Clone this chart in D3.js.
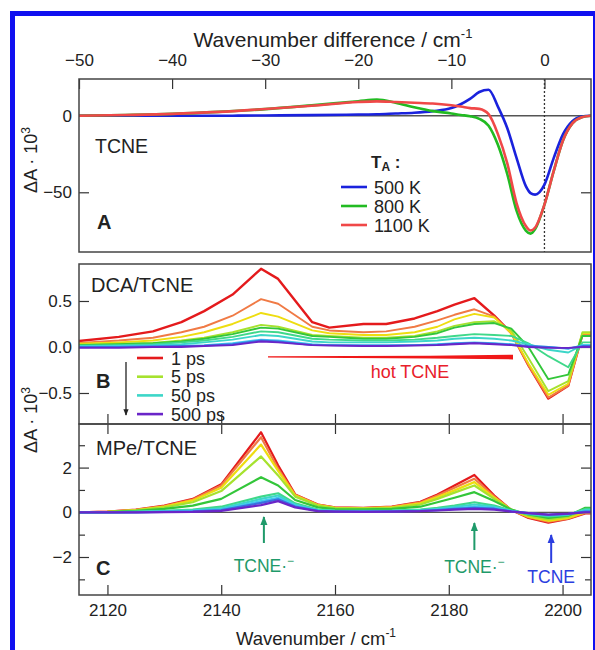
<!DOCTYPE html>
<html>
<head>
<meta charset="utf-8">
<script src="https://cdn.jsdelivr.net/npm/d3@7"></script>
<style>
  body { margin: 0; background: #fff; }
  text { font-family: "Liberation Sans", Arial, sans-serif; fill: #222; }
</style>
</head>
<body>
<div id="chart"></div>
<script>
// ---------- data ----------
// panel A: wavenumber difference (cm-1)
const diffA = [-50, -45, -40, -35, -30, -25, -20, -18, -16, -14, -12, -10, -9, -8, -7, -6, -5, -4, -3, -2, -1.5, -1, 0, 1, 2, 3, 4, 5];
const temps = ["500 K", "800 K", "1100 K"];
const tempColors = ["#1a22dd", "#22bb22", "#f04848"];
const tcne500 = [0, 0, 0, 0, 0.2, 0.4, 0.8, 1, 1.5, 2, 3, 5, 7.5, 11, 15.5, 17, 6, -8, -27.5, -46, -50.5, -51.5, -45, -27.5, -12, -3.5, -0.5, 0];
const tcne800 = [0, 0.5, 1.2, 2.5, 4.3, 6.8, 9.5, 10.5, 8.5, 5.5, 3, 1.5, 0.5, -0.3, -2, -6.5, -19, -38, -62, -75, -77, -74, -58, -36, -16, -5, -1, 0];
const tcne1100 = [0, 0.5, 1.2, 2.5, 4.4, 6.5, 9, 9.4, 9, 8.5, 8, 6.8, 6, 5, 4.5, 1, -12, -31, -57, -72, -75, -73, -58, -36, -16, -5, -1, 0];

// pump-probe delays
const delays = ["1 ps", "2 ps", "3 ps", "5 ps", "10 ps", "20 ps", "50 ps", "100 ps", "200 ps", "500 ps"];
const delayColors = ["#e41a1c", "#f07a45", "#eedd10", "#a6e22e", "#33c63a", "#3fd88a", "#3cd6c8", "#3fc8f0", "#3a6ee0", "#6a25c8"];
const legendDelays = [0, 3, 6, 9];

// panel B: DCA/TCNE
const wnB = [2115, 2122, 2128, 2133, 2137, 2142, 2147, 2150, 2156, 2159, 2165, 2169, 2174, 2178, 2181, 2184.5, 2188, 2191, 2194, 2197.5, 2201, 2203.5, 2205];
const dcaB = [
  [0.065, 0.11, 0.17, 0.27, 0.39, 0.57, 0.85, 0.74, 0.27, 0.21, 0.25, 0.25, 0.31, 0.39, 0.46, 0.53, 0.34, 0.15, -0.2, -0.56, -0.42, 0.14, 0.14],
  [0.045, 0.07, 0.1, 0.16, 0.22, 0.34, 0.52, 0.47, 0.22, 0.18, 0.16, 0.17, 0.22, 0.29, 0.35, 0.41, 0.33, 0.15, -0.2, -0.55, -0.42, 0.13, 0.13],
  [0.035, 0.05, 0.07, 0.11, 0.16, 0.25, 0.37, 0.33, 0.18, 0.15, 0.13, 0.13, 0.16, 0.22, 0.3, 0.36, 0.32, 0.15, -0.18, -0.52, -0.4, 0.15, 0.15],
  [0.025, 0.035, 0.045, 0.07, 0.1, 0.16, 0.24, 0.22, 0.13, 0.12, 0.1, 0.1, 0.12, 0.17, 0.23, 0.27, 0.28, 0.18, -0.12, -0.48, -0.37, 0.16, 0.16],
  [0.02, 0.03, 0.04, 0.06, 0.09, 0.14, 0.21, 0.2, 0.12, 0.11, 0.09, 0.09, 0.11, 0.15, 0.21, 0.25, 0.26, 0.2, 0.0, -0.35, -0.3, 0.12, 0.12],
  [0.015, 0.02, 0.03, 0.05, 0.07, 0.11, 0.17, 0.16, 0.09, 0.08, 0.07, 0.07, 0.08, 0.1, 0.12, 0.14, 0.13, 0.12, 0.04, -0.1, -0.22, 0.05, 0.05],
  [0.01, 0.015, 0.02, 0.03, 0.05, 0.08, 0.13, 0.12, 0.06, 0.05, 0.05, 0.05, 0.06, 0.07, 0.09, 0.1, 0.09, 0.07, 0.03, -0.03, -0.06, 0.02, 0.02],
  [0.0, 0.005, 0.01, 0.015, 0.02, 0.04, 0.08, 0.07, 0.03, 0.02, 0.02, 0.02, 0.02, 0.03, 0.04, 0.05, 0.04, 0.03, 0.01, 0.0, -0.02, 0.02, 0.02],
  [0.0, 0.0, 0.005, 0.01, 0.015, 0.03, 0.07, 0.06, 0.02, 0.02, 0.015, 0.015, 0.02, 0.025, 0.035, 0.045, 0.035, 0.025, 0.01, 0.0, -0.015, 0.01, 0.01],
  [-0.01, -0.01, 0.0, 0.0, 0.01, 0.02, 0.06, 0.05, 0.02, 0.015, 0.01, 0.01, 0.015, 0.02, 0.03, 0.04, 0.03, 0.02, 0.0, -0.01, -0.01, 0.0, 0.0]
];

// panel C: MPe/TCNE
const wnC = [2115, 2120, 2125, 2130, 2135, 2140, 2147, 2150, 2153, 2157, 2160, 2165, 2170, 2175, 2178, 2181, 2184.5, 2188, 2191, 2194, 2197.5, 2201, 2204, 2205];
const mpeC = [
  [0, 0.03, 0.12, 0.3, 0.6, 1.25, 3.58, 2.1, 0.8, 0.35, 0.22, 0.2, 0.25, 0.47, 0.8, 1.2, 1.67, 0.75, 0.1, -0.25, -0.46, -0.3, -0.05, -0.05],
  [0, 0.03, 0.11, 0.28, 0.57, 1.2, 3.36, 1.95, 0.78, 0.34, 0.21, 0.19, 0.24, 0.44, 0.75, 1.1, 1.5, 0.7, 0.1, -0.22, -0.42, -0.28, -0.03, -0.03],
  [0, 0.02, 0.1, 0.26, 0.53, 1.1, 3.03, 1.85, 0.75, 0.32, 0.2, 0.18, 0.22, 0.4, 0.68, 0.98, 1.35, 0.65, 0.1, -0.2, -0.38, -0.25, 0, 0],
  [0, 0.02, 0.09, 0.22, 0.45, 0.95, 2.5, 1.65, 0.7, 0.3, 0.19, 0.17, 0.2, 0.35, 0.6, 0.88, 1.2, 0.6, 0.12, -0.15, -0.32, -0.2, 0.1, 0.1],
  [0, 0.01, 0.06, 0.15, 0.3, 0.6, 1.57, 1.2, 0.55, 0.22, 0.14, 0.13, 0.15, 0.25, 0.45, 0.65, 0.9, 0.5, 0.12, -0.1, -0.25, -0.15, 0.2, 0.2],
  [0, 0, 0.03, 0.07, 0.12, 0.25, 0.7, 0.85, 0.4, 0.12, 0.08, 0.07, 0.08, 0.12, 0.2, 0.3, 0.45, 0.3, 0.08, -0.08, -0.18, -0.12, 0.15, 0.15],
  [0, 0, 0.02, 0.05, 0.09, 0.18, 0.6, 0.75, 0.35, 0.1, 0.06, 0.05, 0.06, 0.1, 0.15, 0.24, 0.35, 0.25, 0.06, -0.06, -0.15, -0.1, 0.1, 0.1],
  [0, 0, 0.01, 0.03, 0.06, 0.12, 0.5, 0.65, 0.3, 0.08, 0.05, 0.04, 0.05, 0.07, 0.12, 0.18, 0.25, 0.2, 0.05, -0.05, -0.12, -0.08, 0.05, 0.05],
  [0, 0, 0, 0.02, 0.04, 0.1, 0.42, 0.58, 0.26, 0.06, 0.04, 0.03, 0.04, 0.06, 0.1, 0.15, 0.2, 0.16, 0.04, -0.04, -0.11, -0.07, 0.03, 0.03],
  [0, 0, 0, 0.01, 0.02, 0.06, 0.32, 0.5, 0.22, 0.05, 0.03, 0.02, 0.03, 0.05, 0.08, 0.12, 0.15, 0.12, 0.03, -0.04, -0.1, -0.06, 0, 0]
];

// band assignments in panel C
const bandPos = [2147.5, 2184.5, 2198];
const bandNames = ["TCNE·", "TCNE·", "TCNE"];
const bandColors = ["#1f9a6a", "#1f9a6a", "#2b3ee0"];

const topTicks = [-50, -40, -30, -20, -10, 0];
const bottomTicks = [2120, 2140, 2160, 2180, 2200];

// ---------- layout ----------
const W = 595, H = 650;
const left = 79, right = 591;

const svg = d3.select("#chart").append("svg")
  .attr("width", W).attr("height", H)
  .attr("viewBox", [0, 0, W, H]);

// blue frame
svg.append("rect")
  .attr("x", 12.5).attr("y", 13.5)
  .attr("width", 583).attr("height", 650)
  .attr("fill", "none").attr("stroke", "#1010f0").attr("stroke-width", 5);

const x = d3.scaleLinear().domain([2115, 2205]).range([left, right]);
const xTop = d3.scaleLinear().domain([-50, 5]).range([left, right]);

const panels = {
  A: { top: 79, bottom: 252 },
  B: { top: 264, bottom: 424 },
  C: { top: 424, bottom: 595 }
};
const yA = d3.scaleLinear().domain([-89, 24]).range([panels.A.bottom, panels.A.top]);
const yB = d3.scaleLinear().domain([-0.837, 0.902]).range([panels.B.bottom, panels.B.top]);
const yC = d3.scaleLinear().domain([-3.7, 3.95]).range([panels.C.bottom, panels.C.top]);

// clip paths
const defs = svg.append("defs");
Object.entries(panels).forEach(([k, p]) => {
  defs.append("clipPath").attr("id", "clip" + k)
    .append("rect").attr("x", left).attr("y", p.top)
    .attr("width", right - left).attr("height", p.bottom - p.top);
});

function styleAxis(g) {
  g.select(".domain").remove();
  g.selectAll(".tick line").attr("stroke", "#333").attr("stroke-width", 1.2);
  g.selectAll(".tick text").attr("font-size", 17).attr("fill", "#222")
    .attr("font-family", "Liberation Sans, Arial, sans-serif");
}

// ---------- panel A ----------
svg.append("g")
  .attr("transform", `translate(0,${panels.A.top})`)
  .call(d3.axisTop(xTop).tickValues(topTicks).tickSize(-10).tickPadding(13).tickFormat(d3.format("d")))
  .call(styleAxis);
svg.append("g")
  .attr("transform", `translate(${left},0)`)
  .call(d3.axisLeft(yA).tickValues([0, -50]).tickSize(-10).tickPadding(7))
  .call(styleAxis);
svg.append("g")
  .attr("transform", `translate(${right},0)`)
  .call(d3.axisRight(yA).tickValues([-50]).tickSize(-10).tickFormat(""))
  .call(styleAxis);

const gA = svg.append("g").attr("clip-path", "url(#clipA)");
gA.append("line")
  .attr("x1", left).attr("x2", right)
  .attr("y1", yA(0)).attr("y2", yA(0))
  .attr("stroke", "#555").attr("stroke-width", 1.5);
gA.append("line")
  .attr("x1", xTop(0)).attr("x2", xTop(0))
  .attr("y1", panels.A.top).attr("y2", panels.A.bottom)
  .attr("stroke", "#333").attr("stroke-width", 1.3).attr("stroke-dasharray", "2,2");

const lineA = d3.line().x((d, i) => xTop(diffA[i])).y(d => yA(d)).curve(d3.curveMonotoneX);
[tcne500, tcne800, tcne1100].forEach((s, i) => {
  gA.append("path").datum(s)
    .attr("d", lineA).attr("fill", "none")
    .attr("stroke", tempColors[i]).attr("stroke-width", 2.6);
});

svg.append("text").attr("x", 95).attr("y", 153).attr("font-size", 19.5).text("TCNE");
svg.append("text").attr("x", 97).attr("y", 229).attr("font-size", 20).attr("font-weight", "bold").text("A");

const legA = svg.append("g");
const ta = legA.append("text").attr("x", 371).attr("y", 168).attr("font-size", 17).attr("font-weight", "bold");
ta.append("tspan").text("T");
ta.append("tspan").attr("font-size", 12).attr("dy", 3).text("A");
ta.append("tspan").attr("dy", -3).text(" :");
temps.forEach((t, i) => {
  const yy = 187 + i * 19;
  legA.append("line").attr("x1", 341).attr("x2", 367).attr("y1", yy).attr("y2", yy)
    .attr("stroke", tempColors[i]).attr("stroke-width", 2.6);
  legA.append("text").attr("x", 374).attr("y", yy + 6.5).attr("font-size", 18).text(t);
});

// ---------- panel B ----------
svg.append("g")
  .attr("transform", `translate(${left},0)`)
  .call(d3.axisLeft(yB).tickValues([0.5, 0, -0.5]).tickSize(-10).tickPadding(7).tickFormat(d3.format(".1f")))
  .call(styleAxis);
svg.append("g")
  .attr("transform", `translate(${right},0)`)
  .call(d3.axisRight(yB).tickValues([0.5, 0, -0.5]).tickSize(-10).tickFormat(""))
  .call(styleAxis);
svg.append("g")
  .attr("transform", `translate(0,${panels.B.bottom})`)
  .call(d3.axisBottom(x).tickValues(bottomTicks).tickSize(-10).tickFormat(""))
  .call(styleAxis);

const gB = svg.append("g").attr("clip-path", "url(#clipB)");
const lineB = d3.line().x((d, i) => x(wnB[i])).y(d => yB(d));
dcaB.forEach((s, i) => {
  gB.append("path").datum(s)
    .attr("d", lineB).attr("fill", "none")
    .attr("stroke", delayColors[i]).attr("stroke-width", i === 0 ? 2.4 : 1.9)
    .attr("stroke-linejoin", "round");
});

svg.append("text").attr("x", 91).attr("y", 292).attr("font-size", 20).text("DCA/TCNE");
svg.append("text").attr("x", 96).attr("y", 388).attr("font-size", 20).attr("font-weight", "bold").text("B");

// hot TCNE bar (tapered)
svg.append("path")
  .attr("d", `M268,356.3 L430,355.8 L513,354.8 L513,359.4 L430,358.6 L268,357.6 Z`)
  .attr("fill", "#f01818");
svg.append("text").attr("x", 410).attr("y", 378).attr("text-anchor", "middle")
  .attr("font-size", 18).style("fill", "#e8202a").text("hot TCNE");

const legB = svg.append("g");
legendDelays.forEach((di, k) => {
  const yy = 358 + k * 18.7;
  legB.append("line").attr("x1", 137).attr("x2", 163).attr("y1", yy).attr("y2", yy)
    .attr("stroke", delayColors[di]).attr("stroke-width", 2.6);
  legB.append("text").attr("x", 171).attr("y", yy + 6.5).attr("font-size", 18).text(delays[di]);
});
defs.append("marker").attr("id", "headBlack")
  .attr("viewBox", "0 0 10 10").attr("refX", 9).attr("refY", 5)
  .attr("markerWidth", 5).attr("markerHeight", 5).attr("orient", "auto")
  .append("path").attr("d", "M0,1 L10,5 L0,9 Z").attr("fill", "#222");
legB.append("line").attr("x1", 126).attr("x2", 126).attr("y1", 362).attr("y2", 415)
  .attr("stroke", "#222").attr("stroke-width", 1.3).attr("marker-end", "url(#headBlack)");

// ---------- panel C ----------
svg.append("g")
  .attr("transform", `translate(${left},0)`)
  .call(d3.axisLeft(yC).tickValues([2, 0, -2]).tickSize(-10).tickPadding(7))
  .call(styleAxis);
svg.append("g")
  .attr("transform", `translate(${left},0)`)
  .call(d3.axisLeft(yC).tickValues([3, 1, -1, -3]).tickSize(-6).tickFormat(""))
  .call(styleAxis);
svg.append("g")
  .attr("transform", `translate(${right},0)`)
  .call(d3.axisRight(yC).tickValues([2, 0, -2]).tickSize(-10).tickFormat(""))
  .call(styleAxis);
svg.append("g")
  .attr("transform", `translate(${right},0)`)
  .call(d3.axisRight(yC).tickValues([3, 1, -1, -3]).tickSize(-6).tickFormat(""))
  .call(styleAxis);
svg.append("g")
  .attr("transform", `translate(0,${panels.C.top})`)
  .call(d3.axisTop(x).tickValues(bottomTicks).tickSize(-10).tickFormat(""))
  .call(styleAxis);
svg.append("g")
  .attr("transform", `translate(0,${panels.C.bottom})`)
  .call(d3.axisBottom(x).tickValues(bottomTicks).tickSize(-10).tickPadding(9).tickFormat(d3.format("d")))
  .call(styleAxis);

const gC = svg.append("g").attr("clip-path", "url(#clipC)");
gC.append("line")
  .attr("x1", left).attr("x2", right)
  .attr("y1", yC(0)).attr("y2", yC(0))
  .attr("stroke", "#555").attr("stroke-width", 1.3);
const lineC = d3.line().x((d, i) => x(wnC[i])).y(d => yC(d));
mpeC.forEach((s, i) => {
  gC.append("path").datum(s)
    .attr("d", lineC).attr("fill", "none")
    .attr("stroke", delayColors[i]).attr("stroke-width", 2.2)
    .attr("stroke-linejoin", "round");
});

svg.append("text").attr("x", 96).attr("y", 455).attr("font-size", 20).text("MPe/TCNE");
svg.append("text").attr("x", 96).attr("y", 575).attr("font-size", 20).attr("font-weight", "bold").text("C");

// band arrows + labels
const arrowY = [[543, 517, 572], [550, 523, 573], [563, 535, 583]];
bandPos.forEach((wn, i) => {
  const cx = x(wn);
  const id = "head" + i;
  defs.append("marker").attr("id", id)
    .attr("viewBox", "0 0 10 10").attr("refX", 9).attr("refY", 5)
    .attr("markerWidth", 4.5).attr("markerHeight", 4.5).attr("orient", "auto")
    .append("path").attr("d", "M0,1 L10,5 L0,9 Z").attr("fill", bandColors[i]);
  svg.append("line").attr("x1", cx).attr("x2", cx)
    .attr("y1", arrowY[i][0]).attr("y2", arrowY[i][1])
    .attr("stroke", bandColors[i]).attr("stroke-width", 2).attr("marker-end", `url(#${id})`);
  const t = svg.append("text").attr("x", cx).attr("y", arrowY[i][2])
    .attr("text-anchor", "middle").attr("font-size", 17.5)
    .style("fill", bandColors[i]);
  t.append("tspan").text(bandNames[i]);
  if (i < 2) t.append("tspan").attr("dy", -7).attr("font-size", 12).text("\u2212");
});

// panel frames
Object.values(panels).forEach(p => {
  svg.append("rect")
    .attr("x", left).attr("y", p.top)
    .attr("width", right - left).attr("height", p.bottom - p.top)
    .attr("fill", "none").attr("stroke", "#444").attr("stroke-width", 1.5);
});

// ---------- axis titles ----------
const tt = svg.append("text").attr("x", 333).attr("y", 47).attr("text-anchor", "middle").attr("font-size", 21);
tt.append("tspan").text("Wavenumber difference / cm");
tt.append("tspan").attr("dy", -9).attr("font-size", 13).text("-1");

const bt = svg.append("text").attr("x", 316).attr("y", 645).attr("text-anchor", "middle").attr("font-size", 18.5);
bt.append("tspan").text("Wavenumber / cm");
bt.append("tspan").attr("dy", -8).attr("font-size", 12).text("-1");

[[37, 160], [37, 420]].forEach(([cx, cy]) => {
  const t = svg.append("text")
    .attr("transform", `translate(${cx},${cy}) rotate(-90)`)
    .attr("text-anchor", "middle").attr("font-size", 18);
  t.append("tspan").text("\u0394A \u00b7 10");
  t.append("tspan").attr("dy", -7).attr("font-size", 12).text("3");
});
</script>
</body>
</html>
